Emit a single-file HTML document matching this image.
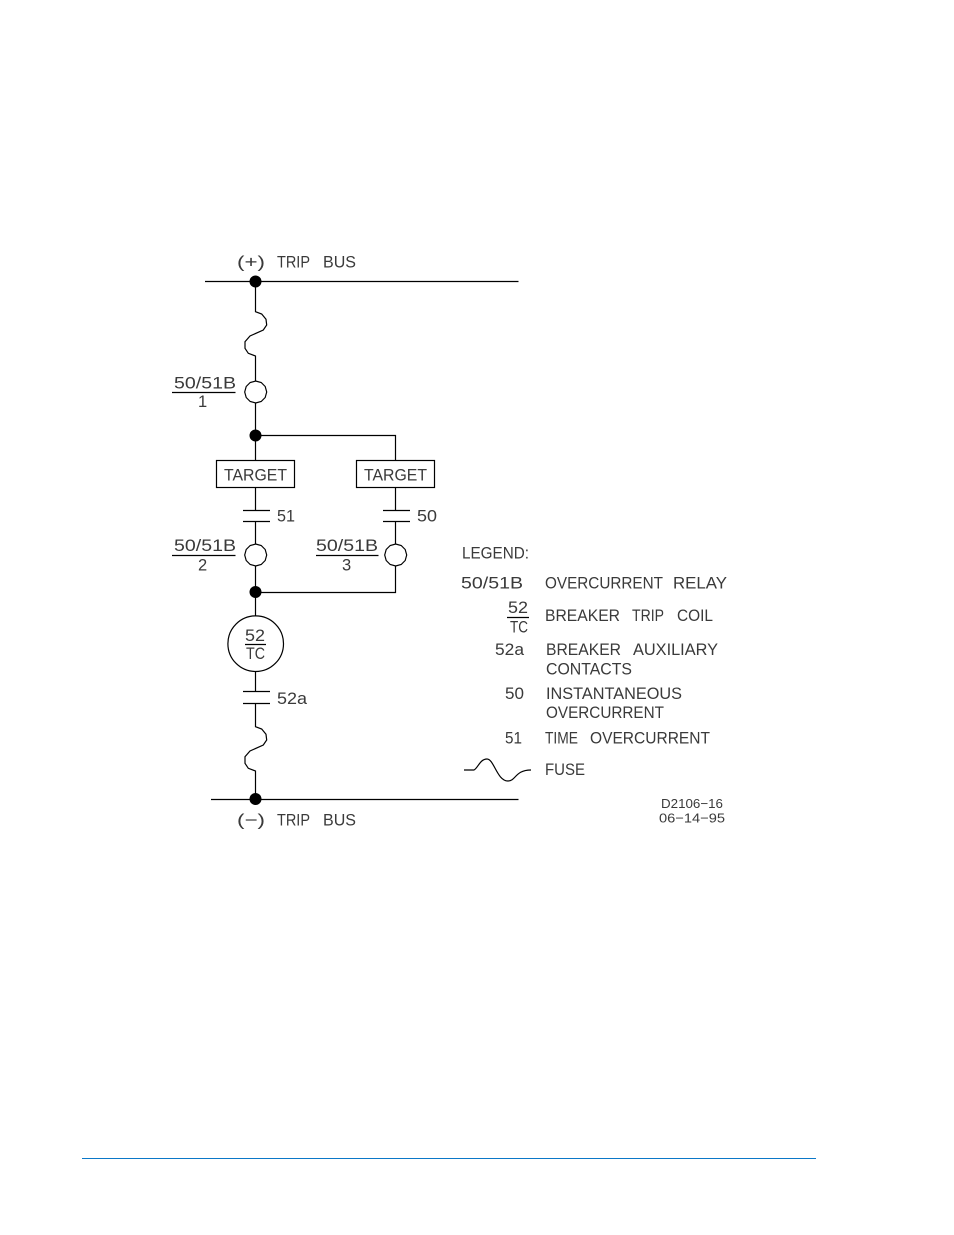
<!DOCTYPE html>
<html><head><meta charset="utf-8"><style>
html,body{margin:0;padding:0;background:#fff}
svg{display:block}
text{font-family:"Liberation Sans",sans-serif;font-size:16.5px;fill:#3a3a3a;font-weight:normal}
.s{font-size:13px}
</style></head><body>
<svg width="954" height="1235" viewBox="0 0 954 1235" xmlns="http://www.w3.org/2000/svg">
<rect width="954" height="1235" fill="#fff"/>
<defs><polygon id="r" points="11,0 9.5,5.5 5.5,9.5 0,11 -5.5,9.5 -9.5,5.5 -11,0 -9.5,-5.5 -5.5,-9.5 0,-11 5.5,-9.5 9.5,-5.5"/></defs>
<g fill="none" stroke="#000" stroke-width="1.2">
<path d="M205 281.5H518.5M211 799.5H518.5"/>
<path d="M255.5 281.5V311.7L261.7 314L266 319.3L266.7 325L263.3 330L250 336L245 341.7L245 348.3L248.3 353.3L255.5 356V381"/>
<use href="#r" x="255.7" y="392"/>
<path d="M255.5 403V460.5M255.5 435.5H395.5V460.5"/>
<rect x="216.5" y="460.5" width="78" height="27"/>
<rect x="356.5" y="460.5" width="78" height="27"/>
<path d="M255.5 487.5V510.5M243 510.5H270M243 521.5H270M255.5 521.5V544"/>
<path d="M395.5 487.5V510.5M383 510.5H410M383 521.5H410M395.5 521.5V544"/>
<use href="#r" x="255.7" y="555"/>
<use href="#r" x="395.7" y="555"/>
<path d="M255.5 566V616M395.5 566V592.5H255.5"/>
<circle cx="255.7" cy="643.7" r="27.8"/>
<path d="M255.5 671.5V691.5M243 691.5H270M243 703.5H270M255.5 703.5V726.7L261.7 729L266 734.3L266.7 740L263.3 745L250 751L245 756.7L245 763.3L248.3 768.3L255.5 771V799"/>
<path d="M172 392.5H235.5M172 555.5H235.5M316 555.5H378.5M245 644.5H266M507 617.5H529"/>
<path d="M464 770H474C478 768 480 759 487 759C494 759 497 781 508 781C516 781 515 770 531 770"/>
</g>
<g fill="#000"><circle cx="255.5" cy="281.5" r="6"/><circle cx="255.5" cy="435.5" r="6"/><circle cx="255.5" cy="592" r="6"/><circle cx="255.5" cy="799" r="6"/></g>
<rect x="82" y="1158" width="734" height="1" fill="#0b78c8"/>
<g lengthAdjust="spacingAndGlyphs">
<text x="237" y="267.5" textLength="28" lengthAdjust="spacingAndGlyphs">(+)</text>
<text x="277" y="267.5" textLength="33" lengthAdjust="spacingAndGlyphs">TRIP</text>
<text x="323" y="267.5" textLength="33" lengthAdjust="spacingAndGlyphs">BUS</text>
<text x="174" y="388.5" textLength="62" lengthAdjust="spacingAndGlyphs">50/51B</text>
<text x="198" y="407">1</text>
<text x="224" y="480.5" textLength="63" lengthAdjust="spacingAndGlyphs">TARGET</text>
<text x="364" y="480.5" textLength="63" lengthAdjust="spacingAndGlyphs">TARGET</text>
<text x="277" y="521.5" textLength="18" lengthAdjust="spacingAndGlyphs">51</text>
<text x="417" y="521.5" textLength="20" lengthAdjust="spacingAndGlyphs">50</text>
<text x="174" y="551" textLength="62" lengthAdjust="spacingAndGlyphs">50/51B</text>
<text x="198" y="570.5">2</text>
<text x="316" y="551" textLength="62" lengthAdjust="spacingAndGlyphs">50/51B</text>
<text x="342" y="570.5">3</text>
<text x="245" y="641" textLength="20" lengthAdjust="spacingAndGlyphs">52</text>
<text x="246" y="659" textLength="19" lengthAdjust="spacingAndGlyphs">TC</text>
<text x="277" y="704" textLength="30" lengthAdjust="spacingAndGlyphs">52a</text>
<text x="237" y="825.5" textLength="28" lengthAdjust="spacingAndGlyphs">(−)</text>
<text x="277" y="825.5" textLength="33" lengthAdjust="spacingAndGlyphs">TRIP</text>
<text x="323" y="825.5" textLength="33" lengthAdjust="spacingAndGlyphs">BUS</text>
<text x="462" y="558.5" textLength="67" lengthAdjust="spacingAndGlyphs">LEGEND:</text>
<text x="461" y="588.5" textLength="62" lengthAdjust="spacingAndGlyphs">50/51B</text>
<text x="545" y="588.5" textLength="118" lengthAdjust="spacingAndGlyphs">OVERCURRENT</text>
<text x="673" y="588.5" textLength="54" lengthAdjust="spacingAndGlyphs">RELAY</text>
<text x="508" y="613" textLength="20" lengthAdjust="spacingAndGlyphs">52</text>
<text x="510" y="632.5" textLength="18" lengthAdjust="spacingAndGlyphs">TC</text>
<text x="545" y="621" textLength="75" lengthAdjust="spacingAndGlyphs">BREAKER</text>
<text x="632" y="621" textLength="32" lengthAdjust="spacingAndGlyphs">TRIP</text>
<text x="677" y="621" textLength="36" lengthAdjust="spacingAndGlyphs">COIL</text>
<text x="495" y="655" textLength="29" lengthAdjust="spacingAndGlyphs">52a</text>
<text x="546" y="655" textLength="75" lengthAdjust="spacingAndGlyphs">BREAKER</text>
<text x="633" y="655" textLength="85" lengthAdjust="spacingAndGlyphs">AUXILIARY</text>
<text x="546" y="674.5" textLength="86" lengthAdjust="spacingAndGlyphs">CONTACTS</text>
<text x="505" y="699" textLength="19" lengthAdjust="spacingAndGlyphs">50</text>
<text x="546" y="699" textLength="136" lengthAdjust="spacingAndGlyphs">INSTANTANEOUS</text>
<text x="546" y="718" textLength="118" lengthAdjust="spacingAndGlyphs">OVERCURRENT</text>
<text x="505" y="743.5" textLength="17" lengthAdjust="spacingAndGlyphs">51</text>
<text x="545" y="743.5" textLength="33" lengthAdjust="spacingAndGlyphs">TIME</text>
<text x="590" y="743.5" textLength="120" lengthAdjust="spacingAndGlyphs">OVERCURRENT</text>
<text x="545" y="775" textLength="40" lengthAdjust="spacingAndGlyphs">FUSE</text>
<text class="s" x="661" y="808" textLength="62" lengthAdjust="spacingAndGlyphs">D2106−16</text>
<text class="s" x="659" y="822.5" textLength="66" lengthAdjust="spacingAndGlyphs">06−14−95</text>
</g>
</svg>
</body></html>
